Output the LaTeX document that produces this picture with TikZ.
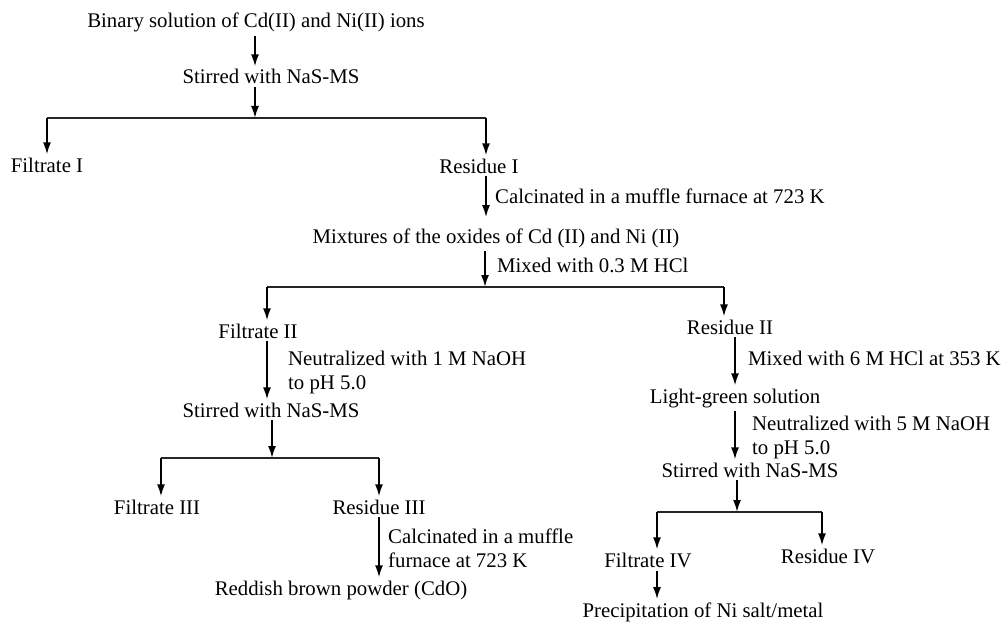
\documentclass[tikz,border=0pt]{standalone}
\usepackage{fontspec}
\setmainfont{Liberation Serif}
\usetikzlibrary{arrows.meta}

\begin{document}
\begin{tikzpicture}[x=1pt,y=-1pt,
  every node/.style={font=\fontsize{20.8}{24}\selectfont,inner sep=3pt},
  txt/.style={anchor=base},
  lbl/.style={anchor=base west,inner sep=0pt,align=left},
  arr/.style={line width=1.8pt,-{Latex[length=12pt,width=8pt]}},
  bar/.style={line width=1.4pt,draw=black!85}]
\useasboundingbox (0,0) rectangle (1003,623);
% top part
\node[txt] (bin) at (256,28) {Binary solution of Cd(II) and Ni(II) ions};
\node[txt] (stir1) at (271,84) {Stirred with NaS-MS};
\node[txt] (filt1) at (47,172) {Filtrate I};
\node[txt] (res1) at (479,173) {Residue I};
\node[lbl] (calc1) at (495,203) {Calcinated in a muffle furnace at 723 K};
\node[txt] (mix) at (496,243) {Mixtures of the oxides of Cd (II) and Ni (II)};
\node[lbl] (hcl) at (497,272) {Mixed with 0.3 M HCl};
% left branch (base of the two line labels is their last line)
\node[txt] (filt2) at (258,338) {Filtrate II};
\node[lbl] (neut1) at (288,389) {Neutralized with 1 M NaOH\\to pH 5.0};
\node[txt] (stir2) at (271,417) {Stirred with NaS-MS};
\node[txt] (filt3) at (157,514) {Filtrate III};
\node[txt] (res3) at (379,514) {Residue III};
\node[lbl] (calc2) at (388,567) {Calcinated in a muffle\\furnace at 723 K};
\node[txt] (red) at (341,595) {Reddish brown powder (CdO)};
% right branch
\node[txt] (res2) at (730,334) {Residue II};
\node[lbl] (hcl6) at (748,365) {Mixed with 6 M HCl at 353 K};
\node[txt] (green) at (735,403) {Light-green solution};
\node[lbl] (neut5) at (752,454) {Neutralized with 5 M NaOH\\to pH 5.0};
\node[txt] (stir3) at (750,477) {Stirred with NaS-MS};
\node[txt] (filt4) at (648,567) {Filtrate IV};
\node[txt] (res4) at (828,563) {Residue IV};
\node[txt] (prec) at (703,617) {Precipitation of Ni salt/metal};

% junctions and bar ends
\coordinate (j1) at (255,118);
\coordinate (b1l) at (47,118);
\coordinate (b1r) at (486,118);
\coordinate (j2) at (485,287);
\coordinate (b2l) at (267,287);
\coordinate (b2r) at (724,287);
\coordinate (j3) at (272,458);
\coordinate (b3l) at (161,458);
\coordinate (b3r) at (379,458);
\coordinate (c3) at (735,0);
\coordinate (j4) at (737,512);
\coordinate (b4l) at (657,512);
\coordinate (b4r) at (822,512);

\draw[arr] (bin.south -| j1) -- (stir1.north -| j1);
\draw[arr] (stir1.south -| j1) -- (j1);
\draw[bar] (b1l) -- (b1r);
\draw[arr] (b1l) -- (filt1.north -| b1l);
\draw[arr] (b1r) -- (res1.north -| b1r);
\draw[arr] (res1.south -| b1r) -- ([yshift=8pt]mix.north -| b1r);
\draw[arr] (mix.south -| j2) -- (j2);
\draw[bar] (b2l) -- (b2r);
\draw[arr] (b2l) -- (filt2.north -| b2l);
\draw[arr] (b2r) -- (res2.north -| b2r);
\draw[arr] (filt2.south -| b2l) -- (stir2.north -| b2l);
\draw[arr] (stir2.south -| j3) -- (j3);
\draw[bar] (b3l) -- (b3r);
\draw[arr] (b3l) -- (filt3.north -| b3l);
\draw[arr] (b3r) -- (res3.north -| b3r);
\draw[arr] (res3.south -| b3r) -- (red.north -| b3r);
\draw[arr] (res2.south -| c3) -- (green.north -| c3);
\draw[arr] (green.south -| c3) -- (stir3.north -| c3);
\draw[arr] (stir3.south -| j4) -- (j4);
\draw[bar] (b4l) -- (b4r);
\draw[arr] (b4l) -- (filt4.north -| b4l);
\draw[arr] (b4r) -- (res4.north -| b4r);
\draw[arr] (filt4.south -| b4l) -- (prec.north -| b4l);
\end{tikzpicture}
\end{document}
